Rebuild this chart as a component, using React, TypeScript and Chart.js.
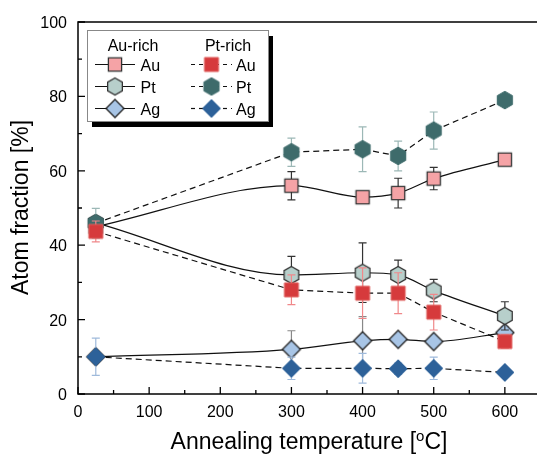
import React, { useEffect, useRef } from "react";
import { Chart, registerables } from "chart.js";
Chart.register(...registerables);

// ---- data ----
const temperatures = [25, 300, 400, 450, 500, 600];
const auRichAu = [45, 56, 52.9, 54, 57.9, 63];
const auRichAuErr = [1, 3.8, 1, 4, 3, 1.2];
const auRichPt = [46, 32, 32.6, 32, 27.8, 21];
const auRichPtErr = [1, 5, 8, 4, 3, 3.8];
const auRichAg = [10, 12, 14.3, 14.7, 14.1, 16.5];
const auRichAgErr = [1, 5, 6.5, 1, 1, 1.5];
const ptRichAu = [43.7, 28, 27.1, 27.1, 22, 14.1];
const ptRichAuErr = [2.8, 4, 6.8, 5.5, 4.8, 1.8];
const ptRichPt = [45.9, 65, 65.8, 64, 70.8, 79];
const ptRichPtErr = [4, 3.8, 6, 4, 5, 1];
const ptRichAg = [10, 6.9, 6.9, 6.8, 6.9, 5.8];
const ptRichAgErr = [5, 3, 4, 1.5, 3, 0.5];
const xTickValues = [0, 100, 200, 300, 400, 500, 600];
const yTickValues = [0, 20, 40, 60, 80, 100];
const xMinorValues = [50, 150, 250, 350, 450, 550, 650];
const yMinorValues = [10, 30, 50, 70, 90];
const xTitle = "Annealing temperature [";
const xTitleSup = "o";
const xTitleEnd = "C]";
const yTitle = "Atom fraction [%]";
const legendHeaders = ["Au-rich", "Pt-rich"];
const elementNames = ["Au", "Pt", "Ag"];

const FONT = "'Liberation Sans', Arial, Helvetica, sans-serif";

type Shape = "square" | "hex" | "diamond";

function pathShape(ctx: CanvasRenderingContext2D, shape: Shape, cx: number, cy: number, s: number) {
  ctx.beginPath();
  if (shape === "square") {
    ctx.rect(cx - s, cy - s, 2 * s, 2 * s);
  } else if (shape === "hex") {
    for (let k = 0; k < 6; k++) {
      const a = -Math.PI / 2 + (k * Math.PI) / 3;
      const px = cx + s * Math.cos(a);
      const py = cy + s * Math.sin(a);
      if (k === 0) ctx.moveTo(px, py);
      else ctx.lineTo(px, py);
    }
    ctx.closePath();
  } else {
    ctx.moveTo(cx, cy - s);
    ctx.lineTo(cx + s, cy);
    ctx.lineTo(cx, cy + s);
    ctx.lineTo(cx - s, cy);
    ctx.closePath();
  }
}

function makeMarker(shape: Shape, s: number, fill: string, stroke: string, lw: number) {
  const c = document.createElement("canvas");
  const size = 24;
  c.width = size;
  c.height = size;
  const ctx = c.getContext("2d")!;
  pathShape(ctx, shape, size / 2, size / 2, s);
  ctx.fillStyle = fill;
  ctx.fill();
  ctx.lineWidth = lw;
  ctx.strokeStyle = stroke;
  ctx.stroke();
  return c;
}

export default function App() {
  const ref = useRef<HTMLCanvasElement>(null);
  useEffect(() => {
    const mAuAu = makeMarker("square", 6.6, "#F5A3A6", "#333333", 1.3);
    const mAuPt = makeMarker("hex", 8.5, "#B7CFCB", "#333333", 1.3);
    const mAuAg = makeMarker("diamond", 9, "#A8C5E6", "#222222", 1.3);
    const mPtAu = makeMarker("square", 7, "#D63A3C", "#E0605F", 1);
    const mPtPt = makeMarker("hex", 8.8, "#3E6B6B", "#3E6B6B", 1);
    const mPtAg = makeMarker("diamond", 9, "#2D6199", "#2D6199", 1);

    const mk = (label: string, vals: number[], errs: number[], marker: HTMLCanvasElement, dashed: boolean, errColor: string, order: number) => ({
      label,
      data: temperatures.map((t, i) => ({ x: t, y: vals[i] })),
      showLine: true,
      borderColor: "#111111",
      borderWidth: 1.2,
      borderDash: dashed ? [6, 4] : [],
      tension: dashed ? 0 : 0.4,
      cubicInterpolationMode: dashed ? "default" : "monotone",
      pointStyle: marker,
      pointRadius: 9,
      pointHoverRadius: 9,
      fill: false,
      order,
      errors: errs,
      errorColor: errColor,
    });

    const datasets: any[] = [
      mk("Pt-rich Au", ptRichAu, ptRichAuErr, mPtAu, true, "#F0888A", 0),
      mk("Pt-rich Pt", ptRichPt, ptRichPtErr, mPtPt, true, "#9CB8B6", 0),
      mk("Pt-rich Ag", ptRichAg, ptRichAgErr, mPtAg, true, "#9FBADB", 0),
      mk("Au-rich Au", auRichAu, auRichAuErr, mAuAu, false, "#333333", 1),
      mk("Au-rich Pt", auRichPt, auRichPtErr, mAuPt, false, "#333333", 1),
      mk("Au-rich Ag", auRichAg, auRichAgErr, mAuAg, false, "#888888", 1),
    ];

    const decor = {
      id: "decor",
      beforeDatasetDraw(chart: any, args: any) {
        const ds = chart.data.datasets[args.index];
        const ys = chart.scales.y;
        const ctx = chart.ctx as CanvasRenderingContext2D;
        ctx.save();
        ctx.strokeStyle = ds.errorColor;
        ctx.lineWidth = 1.2;
        ctx.setLineDash([]);
        args.meta.data.forEach((pt: any, i: number) => {
          const v = ds.data[i].y;
          const e = ds.errors[i];
          const y1 = ys.getPixelForValue(v + e);
          const y2 = ys.getPixelForValue(v - e);
          ctx.beginPath();
          ctx.moveTo(pt.x, y1);
          ctx.lineTo(pt.x, y2);
          ctx.moveTo(pt.x - 4, y1);
          ctx.lineTo(pt.x + 4, y1);
          ctx.moveTo(pt.x - 4, y2);
          ctx.lineTo(pt.x + 4, y2);
          ctx.stroke();
        });
        ctx.restore();
      },
      afterDraw(chart: any) {
        const ctx = chart.ctx as CanvasRenderingContext2D;
        const { left, right, top, bottom } = chart.chartArea;
        const xs = chart.scales.x;
        const ys = chart.scales.y;
        ctx.save();
        ctx.setLineDash([]);
        // frame
        ctx.strokeStyle = "#000";
        ctx.lineWidth = 1.5;
        ctx.strokeRect(left, top, right - left, bottom - top);
        // ticks
        ctx.lineWidth = 1.3;
        ctx.beginPath();
        xTickValues.forEach((v) => {
          const px = xs.getPixelForValue(v);
          ctx.moveTo(px, bottom);
          ctx.lineTo(px, bottom - 7);
        });
        xMinorValues.forEach((v) => {
          const px = xs.getPixelForValue(v);
          ctx.moveTo(px, bottom);
          ctx.lineTo(px, bottom - 4);
        });
        yTickValues.forEach((v) => {
          const py = ys.getPixelForValue(v);
          ctx.moveTo(left, py);
          ctx.lineTo(left + 7, py);
        });
        yMinorValues.forEach((v) => {
          const py = ys.getPixelForValue(v);
          ctx.moveTo(left, py);
          ctx.lineTo(left + 4, py);
        });
        ctx.stroke();
        // tick labels
        ctx.fillStyle = "#000";
        ctx.font = `16px ${FONT}`;
        ctx.textBaseline = "alphabetic";
        ctx.textAlign = "center";
        xTickValues.forEach((v) => {
          ctx.fillText(String(v), xs.getPixelForValue(v), bottom + 23);
        });
        ctx.textAlign = "right";
        yTickValues.forEach((v) => {
          ctx.fillText(String(v), left - 11, ys.getPixelForValue(v) + 6);
        });
        // x title with superscript
        ctx.font = `23px ${FONT}`;
        const w1 = ctx.measureText(xTitle).width;
        const w3 = ctx.measureText(xTitleEnd).width;
        ctx.font = `15px ${FONT}`;
        const w2 = ctx.measureText(xTitleSup).width;
        const total = w1 + w2 + w3;
        let sx = 309 - total / 2;
        const by = 449;
        ctx.textAlign = "left";
        ctx.font = `23px ${FONT}`;
        ctx.fillText(xTitle, sx, by);
        sx += w1;
        ctx.font = `15px ${FONT}`;
        ctx.fillText(xTitleSup, sx, by - 8);
        sx += w2;
        ctx.font = `23px ${FONT}`;
        ctx.fillText(xTitleEnd, sx, by);
        // y title
        ctx.save();
        ctx.translate(28, 207.5);
        ctx.rotate(-Math.PI / 2);
        ctx.textAlign = "center";
        ctx.fillText(yTitle, 0, 0);
        ctx.restore();

        // legend
        const bx = 87, byy = 30, bw = 181, bh = 91;
        ctx.fillStyle = "#000";
        ctx.fillRect(bx + 5, byy + 6, bw, bh);
        ctx.fillStyle = "#fff";
        ctx.fillRect(bx, byy, bw, bh);
        ctx.strokeStyle = "#888";
        ctx.lineWidth = 1;
        ctx.strokeRect(bx + 0.5, byy + 0.5, bw, bh);
        ctx.fillStyle = "#000";
        ctx.font = `16px ${FONT}`;
        ctx.textAlign = "center";
        ctx.fillText(legendHeaders[0], 133, 51);
        ctx.fillText(legendHeaders[1], 228, 51);
        const rowsY = [64.5, 86.5, 108.5];
        const leftMarkers = [mAuAu, mAuPt, mAuAg];
        const rightMarkers = [mPtAu, mPtPt, mPtAg];
        rowsY.forEach((ry, i) => {
          ctx.strokeStyle = "#111";
          ctx.lineWidth = 1.2;
          ctx.setLineDash([]);
          ctx.beginPath();
          ctx.moveTo(95, ry);
          ctx.lineTo(135, ry);
          ctx.stroke();
          ctx.setLineDash([4, 4]);
          ctx.beginPath();
          ctx.moveTo(191, ry);
          ctx.lineTo(232, ry);
          ctx.stroke();
          ctx.setLineDash([]);
          const lm = leftMarkers[i];
          ctx.drawImage(lm, 115 - lm.width / 2, ry - lm.height / 2);
          const rm = rightMarkers[i];
          ctx.drawImage(rm, 211.5 - rm.width / 2, ry - rm.height / 2);
          ctx.fillStyle = "#000";
          ctx.textAlign = "left";
          ctx.fillText(elementNames[i], 140.5, ry + 6);
          ctx.fillText(elementNames[i], 236, ry + 6);
        });
        ctx.restore();
      },
    };

    const chart = new Chart(ref.current!, {
      type: "scatter",
      data: { datasets },
      options: {
        animation: false,
        responsive: false,
        layout: { padding: { top: 22, right: 24, left: 0, bottom: 0 } },
        plugins: { legend: { display: false }, tooltip: { enabled: false } },
        events: [],
        scales: {
          x: {
            type: "linear",
            min: 0,
            max: 700,
            ticks: { stepSize: 100, display: false },
            grid: { display: false },
            border: { display: false },
            afterFit: (s: any) => {
              s.height = 60;
            },
          },
          y: {
            type: "linear",
            min: 0,
            max: 100,
            ticks: { stepSize: 20, display: false },
            grid: { display: false },
            border: { display: false },
            afterFit: (s: any) => {
              s.width = 78;
            },
          },
        },
      } as any,
      plugins: [decor],
    });
    return () => chart.destroy();
  }, []);

  return (
    <div style={{ position: "fixed", left: 0, top: 0, width: 537, height: 454, overflow: "hidden", background: "#fff" }}>
      <canvas ref={ref} width={600} height={454} style={{ display: "block" }} />
    </div>
  );
}
